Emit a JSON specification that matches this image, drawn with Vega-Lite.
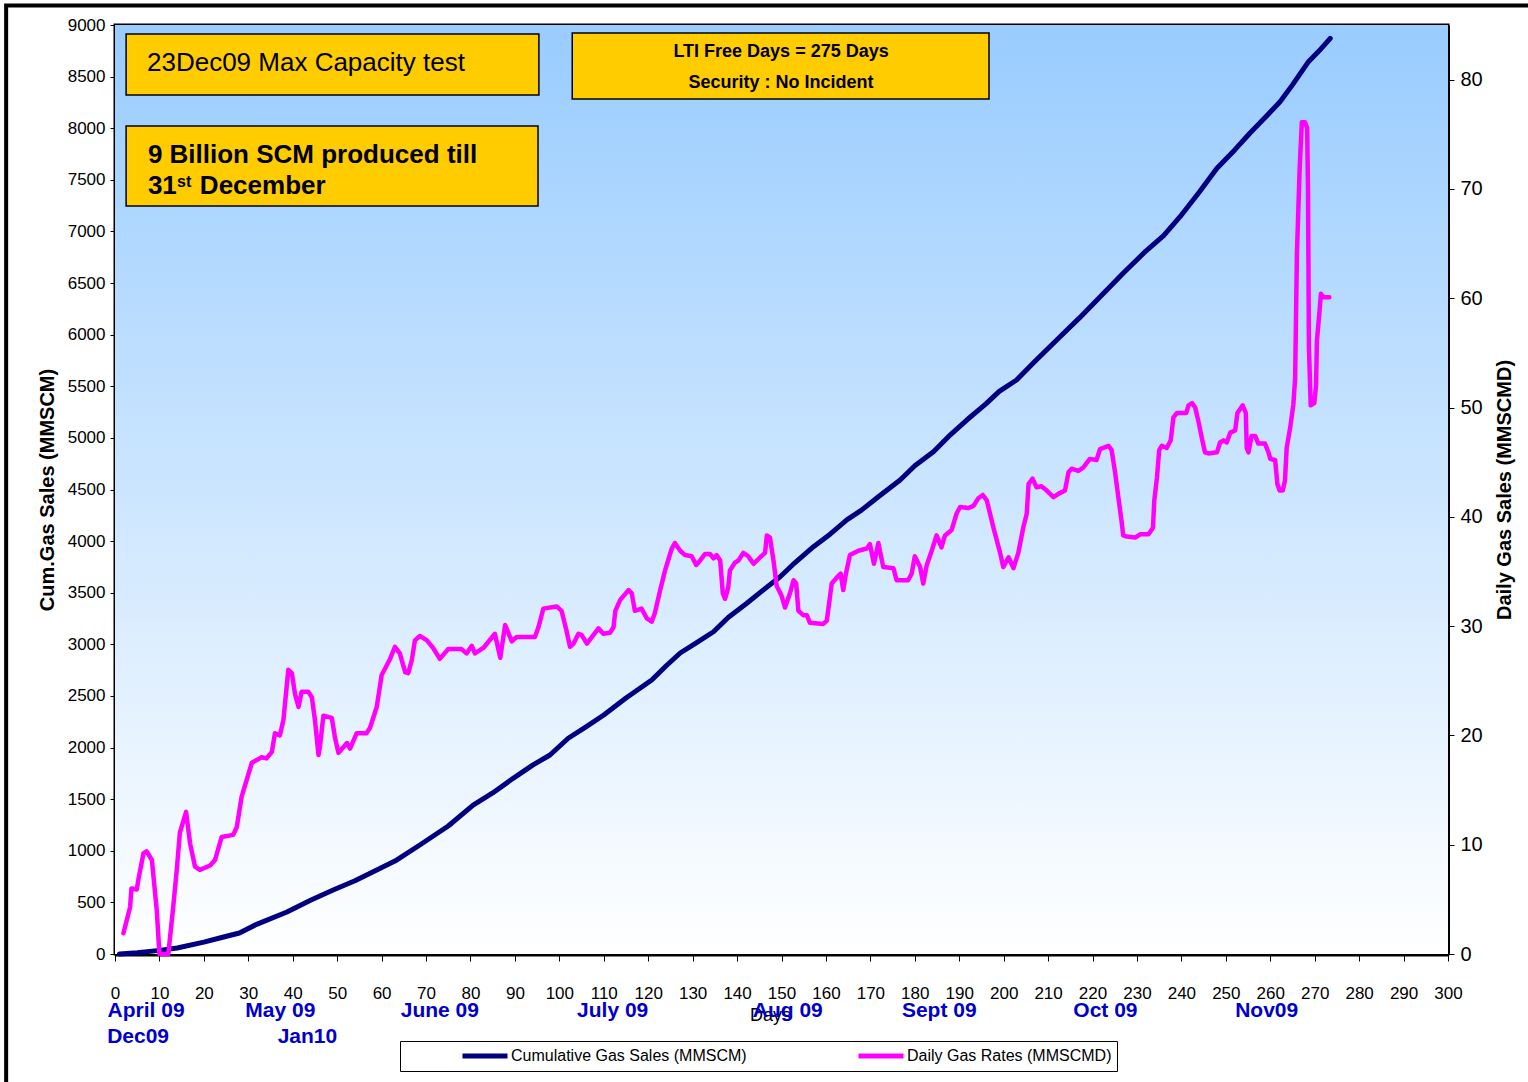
{
  "$schema": "https://vega.github.io/schema/vega-lite/v6.json",
  "width": 1333,
  "height": 929,
  "autosize": {"type": "none"},
  "padding": {"left": 115, "top": 25, "right": 80, "bottom": 128},
  "background": "white",
  "config": {
    "view": {"stroke": "black", "strokeWidth": 3},
    "axis": {"grid": false}
  },
  "datasets": {
    "cum": [
      {"d":1,"v":0},{"d":5,"v":12},{"d":10,"v":35},{"d":14,"v":58},{"d":20,"v":115},{"d":24,"v":160},{"d":28,"v":203},{"d":32,"v":290},{"d":38.7,"v":407},{"d":44,"v":520},{"d":49.1,"v":620},{"d":54,"v":710},{"d":58,"v":794},{"d":63,"v":900},{"d":68.6,"v":1056},{"d":75,"v":1240},{"d":80.6,"v":1443},{"d":85,"v":1560},{"d":89.6,"v":1702},{"d":94,"v":1830},{"d":97.9,"v":1928},{"d":102,"v":2090},{"d":106,"v":2200},{"d":110,"v":2315},{"d":115,"v":2480},{"d":120.8,"v":2655},{"d":124,"v":2790},{"d":127.2,"v":2916},{"d":131,"v":3020},{"d":134.7,"v":3122},{"d":138,"v":3260},{"d":142.2,"v":3398},{"d":146,"v":3530},{"d":149.7,"v":3655},{"d":153,"v":3790},{"d":157.2,"v":3946},{"d":161,"v":4070},{"d":164.7,"v":4205},{"d":168,"v":4300},{"d":171.8,"v":4430},{"d":176.7,"v":4592},{"d":180,"v":4730},{"d":184.2,"v":4866},{"d":188,"v":5030},{"d":191.7,"v":5173},{"d":196,"v":5330},{"d":199,"v":5450},{"d":202.9,"v":5561},{"d":207,"v":5740},{"d":212,"v":5950},{"d":217,"v":6160},{"d":222,"v":6380},{"d":227,"v":6600},{"d":232,"v":6810},{"d":236,"v":6960},{"d":239.7,"v":7143},{"d":244,"v":7380},{"d":248,"v":7612},{"d":252,"v":7790},{"d":255.4,"v":7951},{"d":259,"v":8110},{"d":262.2,"v":8257},{"d":265,"v":8420},{"d":268.6,"v":8645},{"d":271,"v":8750},{"d":273.5,"v":8871}
    ],
    "daily": [
      {"d":1.9,"r":1.9},{"d":3.4,"r":4.3},{"d":3.7,"r":6.0},{"d":4.9,"r":5.9},{"d":5.3,"r":6.9},{"d":6.4,"r":9.2},{"d":7.1,"r":9.4},{"d":8.3,"r":8.6},{"d":9.4,"r":4.0},{"d":10,"r":0},{"d":12,"r":0},{"d":13.1,"r":4.3},{"d":13.9,"r":7.7},{"d":14.6,"r":11.1},{"d":16,"r":13.0},{"d":16.9,"r":10.1},{"d":18,"r":8.0},{"d":19.1,"r":7.7},{"d":21.4,"r":8.1},{"d":22.5,"r":8.6},{"d":24,"r":10.7},{"d":26.6,"r":10.9},{"d":27.4,"r":11.6},{"d":28.5,"r":14.4},{"d":30.8,"r":17.5},{"d":33,"r":18.0},{"d":34.1,"r":17.9},{"d":35.3,"r":18.5},{"d":36,"r":20.2},{"d":37.1,"r":20.0},{"d":37.9,"r":21.4},{"d":39,"r":26.0},{"d":39.8,"r":25.7},{"d":40.5,"r":23.8},{"d":41.3,"r":22.6},{"d":42,"r":24.0},{"d":43.5,"r":24.0},{"d":44.3,"r":23.5},{"d":45,"r":21.4},{"d":45.8,"r":18.2},{"d":46.1,"r":18.9},{"d":46.9,"r":21.8},{"d":48.8,"r":21.6},{"d":49.5,"r":19.8},{"d":50.3,"r":18.4},{"d":52.2,"r":19.3},{"d":52.9,"r":18.8},{"d":54.4,"r":20.2},{"d":56.6,"r":20.2},{"d":57.4,"r":20.7},{"d":58.9,"r":22.6},{"d":60,"r":25.5},{"d":61.9,"r":27.0},{"d":63,"r":28.1},{"d":64.1,"r":27.5},{"d":65.3,"r":25.8},{"d":66,"r":25.7},{"d":66.8,"r":26.9},{"d":67.5,"r":28.7},{"d":68.6,"r":29.1},{"d":70.2,"r":28.7},{"d":71.6,"r":28.0},{"d":73.1,"r":27.0},{"d":75,"r":27.9},{"d":78,"r":27.9},{"d":79.1,"r":27.5},{"d":80.3,"r":28.2},{"d":81,"r":27.5},{"d":82.9,"r":28.0},{"d":85.5,"r":29.3},{"d":86.7,"r":27.1},{"d":87.8,"r":30.1},{"d":89.3,"r":28.6},{"d":90.4,"r":29.0},{"d":94.5,"r":29.0},{"d":95.3,"r":29.9},{"d":96.4,"r":31.6},{"d":99.4,"r":31.8},{"d":100.5,"r":31.4},{"d":101.6,"r":29.6},{"d":102.4,"r":28.1},{"d":103.2,"r":28.4},{"d":104.3,"r":29.3},{"d":105,"r":29.2},{"d":106.2,"r":28.4},{"d":108.8,"r":29.8},{"d":109.9,"r":29.3},{"d":111.4,"r":29.4},{"d":112.2,"r":29.9},{"d":112.6,"r":31.4},{"d":113.7,"r":32.4},{"d":115.6,"r":33.3},{"d":116.3,"r":33.0},{"d":117,"r":31.4},{"d":118.5,"r":31.6},{"d":119.7,"r":30.7},{"d":120.8,"r":30.4},{"d":121.5,"r":31.2},{"d":122.7,"r":33.3},{"d":123.8,"r":35.1},{"d":125.3,"r":37.1},{"d":126,"r":37.6},{"d":127.2,"r":36.9},{"d":128.3,"r":36.5},{"d":129.8,"r":36.4},{"d":130.8,"r":35.6},{"d":131.3,"r":35.8},{"d":132.8,"r":36.6},{"d":133.9,"r":36.6},{"d":134.7,"r":36.2},{"d":135.4,"r":36.5},{"d":136.2,"r":36.0},{"d":136.8,"r":33.0},{"d":137.3,"r":32.5},{"d":138,"r":33.5},{"d":138.4,"r":35.1},{"d":139.5,"r":35.8},{"d":140.3,"r":36.0},{"d":141.4,"r":36.7},{"d":142.5,"r":36.4},{"d":143.7,"r":35.7},{"d":145.2,"r":36.3},{"d":146.3,"r":36.7},{"d":146.7,"r":38.3},{"d":147.4,"r":38.1},{"d":148.2,"r":36.0},{"d":148.9,"r":33.7},{"d":150,"r":32.8},{"d":150.8,"r":31.7},{"d":151.9,"r":33.0},{"d":152.7,"r":34.2},{"d":153.3,"r":33.9},{"d":153.8,"r":31.4},{"d":154.9,"r":31.0},{"d":155.7,"r":31.0},{"d":156.4,"r":30.3},{"d":159.4,"r":30.2},{"d":160.2,"r":30.5},{"d":161.3,"r":33.9},{"d":162.8,"r":34.6},{"d":163.3,"r":34.8},{"d":163.9,"r":33.3},{"d":164.5,"r":34.8},{"d":165.4,"r":36.5},{"d":167.3,"r":36.9},{"d":169.2,"r":37.1},{"d":169.9,"r":37.5},{"d":170.8,"r":35.7},{"d":171.8,"r":37.6},{"d":172.9,"r":35.4},{"d":175.2,"r":35.3},{"d":175.9,"r":34.2},{"d":178.5,"r":34.2},{"d":179.3,"r":34.8},{"d":180,"r":36.4},{"d":181.2,"r":35.4},{"d":181.9,"r":33.9},{"d":182.7,"r":35.6},{"d":183.8,"r":36.9},{"d":184.9,"r":38.3},{"d":186,"r":37.2},{"d":186.8,"r":38.3},{"d":188.3,"r":38.8},{"d":189.4,"r":40.3},{"d":190.2,"r":40.9},{"d":192,"r":40.8},{"d":193.2,"r":41.0},{"d":194.3,"r":41.7},{"d":195.3,"r":42.0},{"d":196.2,"r":41.5},{"d":197.7,"r":39.0},{"d":199.2,"r":36.7},{"d":199.9,"r":35.4},{"d":201.1,"r":36.3},{"d":202.2,"r":35.3},{"d":203.3,"r":36.7},{"d":204.4,"r":39.0},{"d":205.2,"r":40.3},{"d":205.6,"r":43.0},{"d":206.5,"r":43.5},{"d":207.4,"r":42.7},{"d":208.5,"r":42.8},{"d":209.7,"r":42.4},{"d":211.2,"r":41.8},{"d":212.3,"r":42.1},{"d":213.8,"r":42.4},{"d":214.6,"r":44.1},{"d":215.3,"r":44.4},{"d":216.8,"r":44.2},{"d":217.9,"r":44.5},{"d":219.4,"r":45.3},{"d":220.9,"r":45.2},{"d":221.7,"r":46.2},{"d":223.6,"r":46.5},{"d":224.3,"r":46.1},{"d":225.1,"r":44.0},{"d":225.8,"r":41.8},{"d":226.6,"r":39.4},{"d":226.9,"r":38.3},{"d":227.7,"r":38.2},{"d":229.6,"r":38.1},{"d":230.7,"r":38.4},{"d":232.6,"r":38.4},{"d":233.6,"r":39.0},{"d":233.9,"r":41.5},{"d":234.5,"r":43.6},{"d":235,"r":46.1},{"d":235.6,"r":46.5},{"d":236.7,"r":46.3},{"d":237.6,"r":47.0},{"d":238.2,"r":49.1},{"d":239,"r":49.5},{"d":241.1,"r":49.5},{"d":241.6,"r":50.2},{"d":242.4,"r":50.4},{"d":243.1,"r":50.0},{"d":243.8,"r":48.8},{"d":244.6,"r":47.2},{"d":245.3,"r":45.9},{"d":246.1,"r":45.8},{"d":248,"r":45.9},{"d":248.7,"r":46.8},{"d":249.5,"r":47.0},{"d":250.2,"r":46.8},{"d":251,"r":47.7},{"d":252.1,"r":47.9},{"d":252.6,"r":49.5},{"d":253.8,"r":50.2},{"d":254.5,"r":49.5},{"d":254.7,"r":46.3},{"d":255.1,"r":45.9},{"d":255.8,"r":47.4},{"d":256.6,"r":47.4},{"d":257.3,"r":46.7},{"d":258.8,"r":46.7},{"d":259.6,"r":45.9},{"d":260,"r":45.3},{"d":261.1,"r":45.2},{"d":261.6,"r":43.0},{"d":262.1,"r":42.4},{"d":262.8,"r":42.4},{"d":263.3,"r":43.3},{"d":263.7,"r":46.3},{"d":264.5,"r":48.2},{"d":265.2,"r":50.3},{"d":265.6,"r":52.7},{"d":266,"r":64.1},{"d":266.6,"r":71.7},{"d":267.1,"r":76.1},{"d":267.8,"r":76.1},{"d":268.3,"r":75.6},{"d":268.5,"r":69.8},{"d":268.7,"r":55.5},{"d":269.1,"r":50.2},{"d":269.9,"r":50.4},{"d":270.3,"r":52.0},{"d":270.5,"r":56.1},{"d":271.1,"r":58.9},{"d":271.4,"r":60.4},{"d":272,"r":60.1},{"d":273.3,"r":60.1}
    ],
    "background": [{"d": 0, "d2": 300, "v": 9000, "v2": 0}],
    "frame": [{"d": -24.5, "d2": 400, "v": 9189, "v2": -3000}],
    "boxes": [
      {"d": 2.5, "d2": 95.4, "v": 8913, "v2": 8322},
      {"d": 2.5, "d2": 95.2, "v": 8022, "v2": 7247},
      {"d": 102.9, "d2": 196.7, "v": 8923, "v2": 8283}
    ],
    "noteRegular": [{"d": 7.2, "v": 8554, "label": "23Dec09 Max Capacity test"}],
    "noteBold": [
      {"d": 7.4, "v": 7666, "label": "9 Billion SCM produced till"},
      {"d": 7.4, "v": 7362, "label": "31"},
      {"d": 19.1, "v": 7362, "label": "December"}
    ],
    "noteSup": [{"d": 13.95, "v": 7434, "label": "st"}],
    "noteNarrow": [
      {"d": 149.9, "v": 8690, "label": "LTI  Free  Days = 275 Days"},
      {"d": 149.9, "v": 8390, "label": "Security : No Incident"}
    ],
    "months": [
      {"d": 7.0, "v": -610, "label": "April 09"},
      {"d": 37.2, "v": -610, "label": "May 09"},
      {"d": 73.1, "v": -610, "label": "June 09"},
      {"d": 112, "v": -610, "label": "July 09"},
      {"d": 151.4, "v": -610, "label": "Aug 09"},
      {"d": 185.5, "v": -610, "label": "Sept 09"},
      {"d": 222.9, "v": -610, "label": "Oct 09"},
      {"d": 259.2, "v": -610, "label": "Nov09"},
      {"d": 5.2, "v": -862, "label": "Dec09"},
      {"d": 43.3, "v": -862, "label": "Jan10"}
    ]
  },
  "encoding": {
    "x": {
      "field": "d",
      "type": "quantitative",
      "scale": {"domain": [0, 300], "nice": false, "zero": false},
      "axis": {
        "values": [0,10,20,30,40,50,60,70,80,90,100,110,120,130,140,150,160,170,180,190,200,210,220,230,240,250,260,270,280,290,300],
        "title": "Days",
        "titleFont": "Liberation Sans",
        "titleFontSize": 18,
        "titleFontWeight": "normal",
        "titleColor": "black",
        "titleX": 655,
        "titlePadding": 5,
        "labelFont": "Liberation Sans",
        "labelFontSize": 17,
        "labelColor": "black",
        "labelPadding": 24,
        "labelFlush": false,
        "labelOverlap": false,
        "tickSize": 7,
        "tickColor": "black",
        "tickWidth": 1,
        "domainColor": "black",
        "domainWidth": 4
      }
    }
  },
  "layer": [
    {
      "encoding": {
        "y": {
          "field": "v",
          "type": "quantitative",
          "scale": {"domain": [0, 9000], "nice": false, "zero": false},
          "axis": {
            "values": [0,500,1000,1500,2000,2500,3000,3500,4000,4500,5000,5500,6000,6500,7000,7500,8000,8500,9000],
            "format": "d",
            "title": "Cum.Gas Sales (MMSCM)",
            "titleFont": "Liberation Sans",
            "titleFontSize": 20,
            "titleFontWeight": "bold",
            "titleColor": "black",
            "titlePadding": 10,
            "labelFont": "Liberation Sans",
            "labelFontSize": 17,
            "labelColor": "black",
            "labelPadding": 5,
            "labelFlush": false,
            "labelOverlap": false,
            "tickSize": 5,
            "tickColor": "black",
            "domainColor": "black",
            "domainWidth": 3
          }
        }
      },
      "layer": [
        {
          "data": {"name": "background"},
          "mark": {
            "type": "rect",
            "fill": {"gradient": "linear", "x1": 0, "y1": 0, "x2": 0, "y2": 1, "stops": [{"offset": 0, "color": "#99CCFF"}, {"offset": 1, "color": "#FFFFFF"}]},
            "stroke": null
          },
          "encoding": {"x2": {"field": "d2"}, "y2": {"field": "v2"}}
        },
        {
          "data": {"name": "frame"},
          "mark": {"type": "rect", "fill": null, "stroke": "black", "strokeWidth": 4, "clip": false},
          "encoding": {"x2": {"field": "d2"}, "y2": {"field": "v2"}}
        },
        {
          "data": {"name": "cum"},
          "mark": {"type": "line", "strokeWidth": 5, "strokeCap": "round", "strokeJoin": "round"},
          "encoding": {
            "color": {
              "datum": "Cumulative Gas Sales (MMSCM)",
              "type": "nominal",
              "scale": {"domain": ["Cumulative Gas Sales (MMSCM)", "Daily Gas Rates (MMSCMD)"], "range": ["#000080", "#FF00FF"]},
              "legend": {
                "orient": "none",
                "legendX": 285,
                "legendY": 1016,
                "direction": "horizontal",
                "title": null,
                "symbolType": "stroke",
                "symbolStrokeWidth": 5,
                "symbolSize": 2025,
                "clipHeight": 20,
                "labelFont": "Liberation Sans",
                "labelFontSize": 16,
                "labelColor": "black",
                "labelLimit": 400,
                "labelOffset": 1,
                "strokeColor": "black",
                "fillColor": "white",
                "padding": 5,
                "symbolOffset": 55,
                "columnPadding": 54,
                "gridAlign": "all"
              }
            }
          }
        },
        {
          "data": {"name": "boxes"},
          "mark": {"type": "rect", "fill": "#FFCC00", "stroke": "black", "strokeWidth": 1.5},
          "encoding": {"x2": {"field": "d2"}, "y2": {"field": "v2"}}
        },
        {
          "data": {"name": "noteRegular"},
          "mark": {"type": "text", "align": "left", "baseline": "alphabetic", "font": "Liberation Sans", "fontSize": 26, "color": "black"},
          "encoding": {"text": {"field": "label"}}
        },
        {
          "data": {"name": "noteBold"},
          "mark": {"type": "text", "align": "left", "baseline": "alphabetic", "font": "Liberation Sans", "fontSize": 26, "fontWeight": "bold", "color": "black"},
          "encoding": {"text": {"field": "label"}}
        },
        {
          "data": {"name": "noteSup"},
          "mark": {"type": "text", "align": "left", "baseline": "alphabetic", "font": "Liberation Sans", "fontSize": 16, "fontWeight": "bold", "color": "black"},
          "encoding": {"text": {"field": "label"}}
        },
        {
          "data": {"name": "noteNarrow"},
          "mark": {"type": "text", "align": "center", "baseline": "alphabetic", "font": "Liberation Sans", "fontSize": 18, "fontWeight": "bold", "color": "black"},
          "encoding": {"text": {"field": "label"}}
        },
        {
          "data": {"name": "months"},
          "mark": {"type": "text", "align": "center", "baseline": "alphabetic", "font": "Liberation Sans", "fontSize": 21, "fontWeight": "bold", "color": "#0000CC", "clip": false},
          "encoding": {"text": {"field": "label"}}
        }
      ]
    },
    {
      "data": {"name": "daily"},
      "mark": {"type": "line", "strokeWidth": 4.5, "strokeCap": "round", "strokeJoin": "round"},
      "encoding": {
        "y": {
          "field": "r",
          "type": "quantitative",
          "scale": {"domain": [0, 85], "nice": false, "zero": false},
          "axis": {
            "orient": "right",
            "values": [0,10,20,30,40,50,60,70,80],
            "title": "Daily Gas Sales (MMSCMD)",
            "titleAngle": 270,
            "titleBaseline": "top",
            "titleFont": "Liberation Sans",
            "titleFontSize": 20,
            "titleFontWeight": "bold",
            "titleColor": "black",
            "titlePadding": 12,
            "labelFont": "Liberation Sans",
            "labelFontSize": 20,
            "labelColor": "black",
            "labelPadding": 6,
            "labelFlush": false,
            "tickSize": 6,
            "tickColor": "black",
            "domainColor": "black",
            "domainWidth": 3
          }
        },
        "color": {"datum": "Daily Gas Rates (MMSCMD)", "type": "nominal"}
      }
    }
  ],
  "resolve": {"scale": {"y": "independent"}, "axis": {"y": "independent"}}
}
